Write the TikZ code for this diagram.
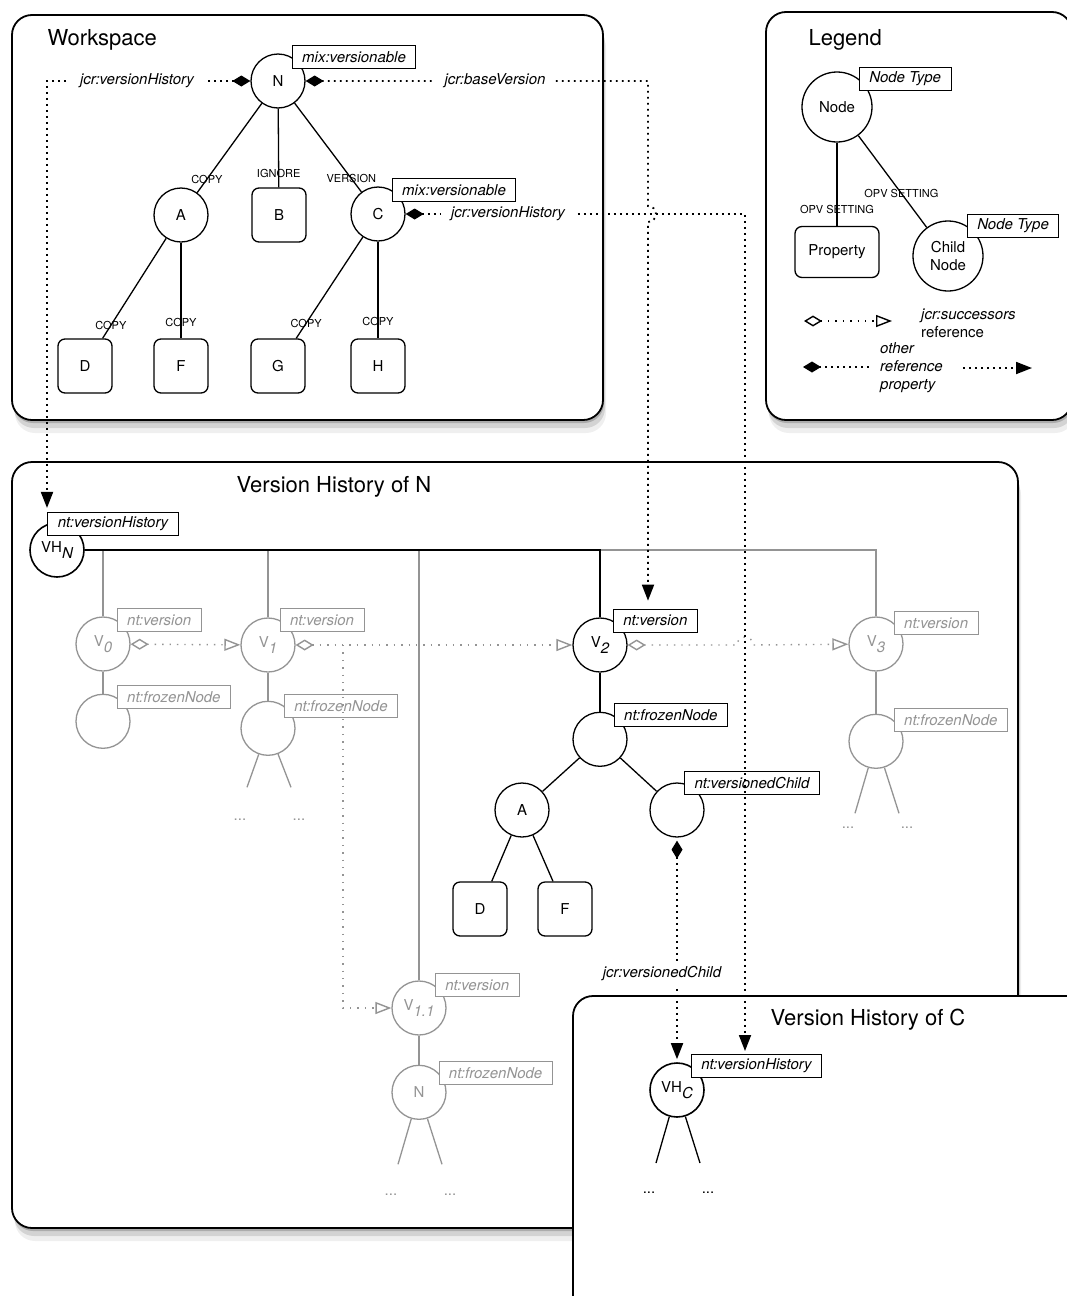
\documentclass[tikz,border=0pt]{standalone}
\usepackage{fontspec}
\setmainfont{TeX Gyre Heros}
\usepackage{tikz}
\usetikzlibrary{arrows.meta,positioning,shadows,calc}

\definecolor{ghost}{gray}{0.58}
\newcommand{\vsub}[1]{\raisebox{-0.4em}{\itshape #1}}

\tikzset{
    dmd/.tip={Diamond[length=18pt,width=11pt]},
    odmd/.tip={Diamond[open,length=18pt,width=11pt]},
    tri/.tip={Triangle[length=16pt,width=12pt]},
    otri/.tip={Triangle[open,length=16pt,width=12pt]}
}

\tikzstyle{panel}=[
	draw=black,
	line width=1.8pt,
	fill=white,
	rounded corners=20pt,
	drop shadow={shadow xshift=1pt, shadow yshift=-3pt, opacity=0.45},
	drop shadow={shadow xshift=2pt, shadow yshift=-8pt, opacity=0.25},
	drop shadow={shadow xshift=3pt, shadow yshift=-13pt, opacity=0.12}
]
\tikzstyle{title}=[
	font=\fontsize{22}{26}\selectfont
]
\tikzstyle{vert}=[
	circle,
	draw=black,
	line width=1.3pt,
	fill=white,
	minimum size=54pt,
	inner sep=0pt,
	font=\fontsize{15}{18}\selectfont
]
\tikzstyle{gvert}=[
	vert,
	draw=ghost,
	text=ghost
]
\tikzstyle{prop}=[
	rectangle,
	rounded corners=7pt,
	draw=black,
	line width=1.3pt,
	fill=white,
	minimum size=54pt,
	inner sep=0pt,
	font=\fontsize{15}{18}\selectfont
]
\tikzstyle{tlab}=[
	anchor=west,
	draw=black,
	fill=white,
	line width=0.8pt,
	inner xsep=10pt,
	inner ysep=0pt,
	minimum height=23pt,
	font=\fontsize{15}{18}\selectfont\itshape
]
\tikzstyle{gtlab}=[
	tlab,
	draw=ghost,
	text=ghost
]
\tikzstyle{elab}=[
	font=\fontsize{11}{13}\selectfont,
	inner sep=1pt
]
\tikzstyle{rlab}=[
	fill=white,
	inner xsep=10pt,
	font=\fontsize{15}{18}\selectfont\itshape
]
\tikzstyle{dots}=[
	inner sep=0pt,
	font=\fontsize{15}{18}\selectfont
]
\tikzstyle{link}=[
	draw=black,
	line width=1.3pt
]
\tikzstyle{glink}=[
	link,
	draw=ghost
]
\tikzstyle{ref}=[
	draw=black,
	line width=1.8pt,
	dash pattern=on 1.8pt off 4.2pt
]
\tikzstyle{succ}=[
	draw=ghost,
	line width=1.4pt,
	dash pattern=on 1.4pt off 6pt
]

\begin{document}
\begin{tikzpicture}[x=1pt, y=-1pt]
\path[use as bounding box, fill=white] (0,0) rectangle (1067,1296);

% panels
\draw[panel] (12,15) rectangle (603,420);
\draw[panel] (766,12) rectangle (1072,420);
\draw[panel] (12,462) rectangle (1018,1228);
\draw[panel] (573,996) rectangle (1100,1330);

\node[title, anchor=west] (ttw) at (44,40) {Workspace};
\node[title, anchor=west] (ttl) at (805,40) {Legend};
\node[title] (ttn) at (334,487) {Version History of N};
\node[title] (ttc) at (868,1020) {Version History of C};

% workspace
\node[vert] (n) at (278,81) {N};
\node[vert] (a) at (181,215) {A};
\node[prop] (b) at (279,215) {B};
\node[vert] (c) at (378,214) {C};
\foreach \l/\t/\x in {d/D/85, f/F/181, g/G/278, h/H/378} {
    \node[prop] (\l) at (\x,366) {\t};
}
\node[tlab] (nt) at (n.60) {mix:versionable};
\node[tlab] (ct) at (c.60) {mix:versionable};

\draw[link] (n) -- node[elab, pos=0.85] {COPY} (a);
\draw[link] (n) -- node[elab, pos=0.83] {IGNORE} (b);
\draw[link] (n) -- node[elab, pos=0.85] {VERSION} (c);
\draw[link] (a) -- node[elab, pos=0.87] {COPY} (d);
\draw[link] (a) -- node[elab, pos=0.83] {COPY} (f);
\draw[link] (c) -- node[elab, pos=0.85] {COPY} (g);
\draw[link] (c) -- node[elab, pos=0.83] {COPY} (h);

% legend
\node[vert, minimum size=70pt] (lnode) at (837,107) {Node};
\node[tlab] (lnodet) at (lnode.52) {Node Type};
\node[prop, minimum width=84pt, minimum height=51pt] (lprop) at (837,252) {Property};
\node[vert, minimum size=70pt, align=center] (lchild) at (948,256) {Child\\Node};
\node[tlab] (lchildt) at (lchild.58) {Node Type};
\draw[link] (lnode) -- node[elab, pos=0.8] {OPV SETTING} (lprop);
\draw[link] (lnode) -- node[elab, pos=0.63] {OPV SETTING} (lchild);

\coordinate (ls1) at (804,321);
\coordinate (ls2) at (892,321);
\coordinate (ls3) at (803,367);
\coordinate (ls4) at (870,367);
\coordinate (ls5) at (963,368);
\coordinate (ls6) at (1032,368);
\draw[succ, draw=black, arrows={odmd-otri}] (ls1) -- (ls2);
\draw[ref, arrows={dmd-}] (ls3) -- (ls4);
\draw[ref, arrows={-tri}] (ls5) -- (ls6);
\node[dots, anchor=west, align=left] (lsuc) at (921,323) {\textit{jcr:successors}\\reference};
\node[dots, anchor=west, align=left, font=\fontsize{15}{18}\selectfont\itshape] (loth) at (880,368) {other\\reference\\property};

% version history of N
\node[vert, line width=1.6pt] (vhn) at (57,550) {VH\vsub{N}};
\node[gvert] (v0) at (103,644) {V\vsub{0}};
\node[gvert] (v1) at (268,645) {V\vsub{1}};
\node[vert] (v2) at (600,645) {V\vsub{2}};
\node[gvert] (v3) at (876,644) {V\vsub{3}};
\node[gvert] (v11) at (419,1008) {V\vsub{1.1}};

\node[gvert, below=22pt of v0] (fz0) {};
\node[gvert, below=28pt of v1] (fz1) {};
\node[vert, below=39pt of v2] (fz2) {};
\node[gvert, below=42pt of v3] (fz3) {};
\node[gvert, below=29pt of v11] (fz11) {N};

\node[vert] (a2) at (522,810) {A};
\node[vert] (vc) at (677,810) {};
\node[prop] (d2) at (480,909) {D};
\node[prop] (f2) at (565,909) {F};

\node[tlab] (vhnl) at (vhn.110) {nt:versionHistory};
\node[gtlab] (v0l) at (v0.60) {nt:version};
\node[gtlab] (v1l) at (v1.65) {nt:version};
\node[tlab] (v2l) at (v2.62) {nt:version};
\node[gtlab] (v3l) at (v3.50) {nt:version};
\node[gtlab] (v11l) at (v11.55) {nt:version};
\node[gtlab] (fz0l) at (fz0.60) {nt:frozenNode};
\node[gtlab] (fz1l) at (fz1.55) {nt:frozenNode};
\node[tlab] (fz2l) at (fz2.60) {nt:frozenNode};
\node[gtlab] (fz3l) at (fz3.50) {nt:frozenNode};
\node[gtlab] (fz11l) at (fz11.45) {nt:frozenNode};
\node[tlab] (vcl) at (vc.75) {nt:versionedChild};

\foreach \v in {v0,v1,v11} {
    \draw[glink] (\v |- vhn) -- (\v);
}
\draw[glink] (v2 |- vhn) -| (v3);
\draw[link] (vhn) -- (v2 |- vhn) -- (v2);

\draw[glink] (v0) -- (fz0);
\draw[glink] (v1) -- (fz1);
\draw[glink] (v3) -- (fz3);
\draw[glink] (v11) -- (fz11);
\draw[link] (v2) -- (fz2);
\draw[link] (fz2) -- (a2);
\draw[link] (fz2) -- (vc);
\draw[link] (a2) -- (d2);
\draw[link] (a2) -- (f2);

% version history of C
\node[vert, line width=1.6pt] (vhc) at (677,1090) {VH\vsub{C}};
\node[tlab] (vhcl) at (vhc.60) {nt:versionHistory};

\foreach \t/\c/\sy/\dy in {fz1/ghost/59/91, fz3/ghost/72/86, fz11/ghost/72/102, vhc/black/73/103} {
    \coordinate (\t sa) at ($(\t)+(-21,\sy)$);
    \coordinate (\t sb) at ($(\t)+(23,\sy)$);
    \draw[link, draw=\c] (\t) -- (\t sa);
    \draw[link, draw=\c] (\t) -- (\t sb);
    \node[dots, text=\c] (\t da) at ($(\t)+(-28,\dy)$) {...};
    \node[dots, text=\c] (\t db) at ($(\t)+(31,\dy)$) {...};
}

% successors
\coordinate (sb) at (343,645);
\draw[succ, arrows={odmd-otri}] (v0) -- (v1);
\draw[succ, arrows={odmd-otri}] (v1) -- (v2);
\draw[succ, arrows={-otri}] (sb) |- (v11);
\draw[succ, arrows={odmd-otri}] (v2) -- (737,645) arc[start angle=180, end angle=360, radius=8] -- (v3);

% references
\coordinate (rvh) at (47,81);
\coordinate (rbv) at (648,81);
\coordinate (rch) at (745,214);
\draw[ref, arrows={dmd-tri}, shorten >=4pt] (n) -- (rvh) -- (rvh |- vhnl.north);
\draw[ref, arrows={dmd-tri}, shorten >=3pt] (c) -- (rch) -- (rch |- vhcl.north);
\draw[ref, arrows={dmd-tri}, shorten >=8pt] (n) -- (rbv) -- (648,206) arc[start angle=-90, end angle=90, radius=8] -- (rbv |- v2l.north);
\draw[ref, arrows={dmd-tri}, shorten <=3pt, shorten >=3pt] (vc) -- (vhc);

\node[rlab] (rvhl) at (137,81) {jcr:versionHistory};
\node[rlab] (rbvl) at (495,81) {jcr:baseVersion};
\node[rlab] (rchl) at (508,214) {jcr:versionHistory};
\node[rlab] (rvcl) at (662,974) {jcr:versionedChild};

\end{tikzpicture}
\end{document}
